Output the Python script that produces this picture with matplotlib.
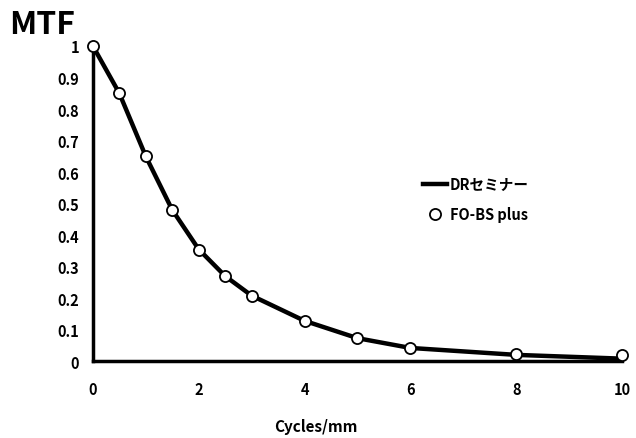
import matplotlib.pyplot as plt

plt.rcParams['font.family'] = ['Noto Sans CJK JP', 'DejaVu Sans']

# データ
cycles = [0, 0.5, 1, 1.5, 2, 2.5, 3, 4, 5, 6, 8, 10]
mtf_dr = [1.0, 0.85, 0.65, 0.48, 0.355, 0.27, 0.208, 0.128, 0.073, 0.042, 0.02, 0.008]
mtf_fo = [1.0, 0.85, 0.65, 0.479, 0.353, 0.269, 0.207, 0.128, 0.072, 0.043, 0.024, 0.019]
xticks = [0, 2, 4, 6, 8, 10]
yticks = [0, 0.1, 0.2, 0.3, 0.4, 0.5, 0.6, 0.7, 0.8, 0.9, 1]

fig = plt.figure(figsize=(6.36, 4.39), dpi=100)
ax = fig.add_axes([0.146, 0.175, 0.832, 0.718])

ax.plot(cycles, mtf_dr, color='black', lw=3.2, label='DRセミナー', zorder=2, clip_on=False)
ax.plot(cycles, mtf_fo, 'o', ms=8, mfc='white', mec='black', mew=1.3,
        label='FO-BS plus', zorder=3, clip_on=False)

ax.set_xlim(0, 10)
ax.set_ylim(0, 1)
ax.set_xticks(xticks)
ax.set_xticklabels([str(v) for v in xticks])
ax.set_yticks(yticks)
ax.set_yticklabels(['0'] + [f'{v:g}' for v in yticks[1:]])
ax.tick_params(length=0, labelsize=10.5, pad=10)
for lab in ax.get_xticklabels() + ax.get_yticklabels():
    lab.set_fontweight('bold')
ax.tick_params(axis='x', pad=14)

for s in ['top', 'right']:
    ax.spines[s].set_visible(False)
for s in ['left', 'bottom']:
    ax.spines[s].set_linewidth(2.5)

fig.text(0.497, 0.027, 'Cycles/mm', fontsize=11, fontweight='bold', ha='center', va='center')
fig.text(0.015, 0.943, 'MTF', fontsize=23, fontweight='bold', va='center', ha='left')

ax.legend(loc='upper left', bbox_to_anchor=(0.6, 0.63), frameon=False,
          handlelength=1.6, handletextpad=0.2, labelspacing=1.0,
          prop={'weight': 'bold', 'size': 10.5})

fig.savefig('out.png', dpi=100)
